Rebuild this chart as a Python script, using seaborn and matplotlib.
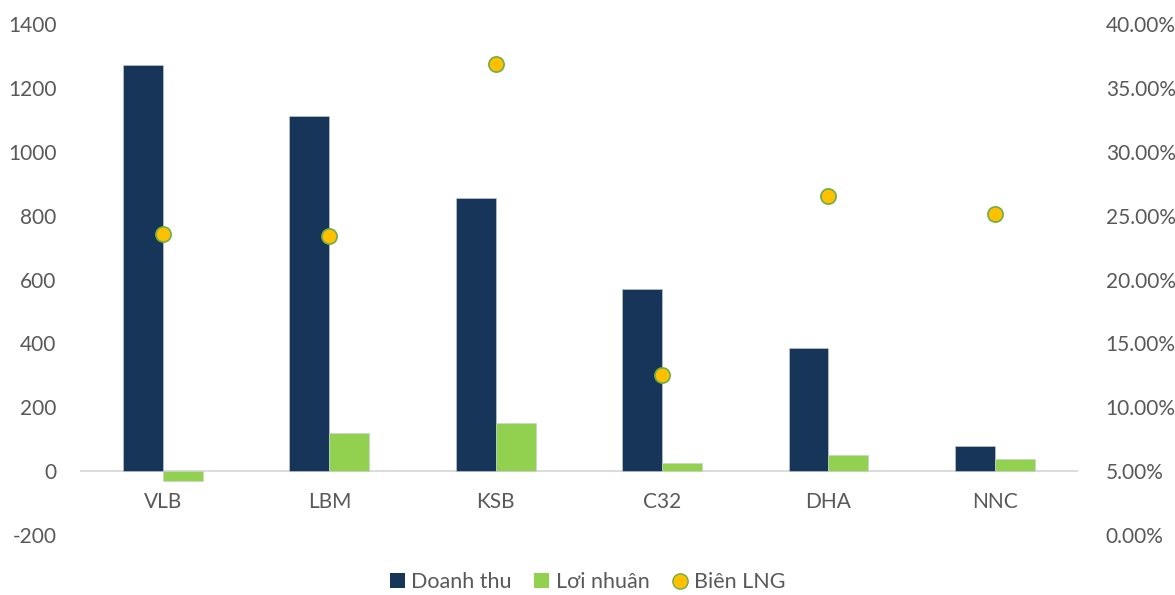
import matplotlib
matplotlib.use("Agg")
import matplotlib.pyplot as plt
import seaborn as sns
import pandas as pd
import numpy as np
from matplotlib.ticker import FuncFormatter, FixedLocator
from matplotlib.patches import Patch
from matplotlib.lines import Line2D

categories = ["VLB", "LBM", "KSB", "C32", "DHA", "NNC"]
doanh_thu = [1272, 1112, 855, 570, 385, 80]
loi_nhuan = [-30, 120, 150, 25, 50, 37]
bien_lng = [23.6, 23.4, 36.9, 12.5, 26.5, 25.1]
left_ticks = [-200, 0, 200, 400, 600, 800, 1000, 1200, 1400]
right_ticks = [0, 5, 10, 15, 20, 25, 30, 35, 40]
series_names = ["Doanh thu", "Lơi nhuân", "Biên LNG"]

sns.set_theme(style="white")
plt.rcParams["font.family"] = ["Lato", "DejaVu Sans"]
plt.rcParams["axes.unicode_minus"] = False

NAVY = "#173459"
GREEN = "#92D050"
GOLD = "#FFC000"
TXT = "#595959"
FS = 15

df = pd.DataFrame({
    "cat": categories * 2,
    "val": doanh_thu + loi_nhuan,
    "series": [series_names[0]] * len(categories) + [series_names[1]] * len(categories),
})

fig = plt.figure(figsize=(11.75, 5.95), dpi=100)
ax = fig.add_axes([0.068, 0.1008, 0.8494, 0.8589])
sns.barplot(data=df, x="cat", y="val", hue="series", order=categories,
            palette=[NAVY, GREEN], width=0.48, ax=ax, saturation=1,
            edgecolor="#c8d0dc", linewidth=0.4, legend=False)
ax.set_xlim(-0.5, len(categories) - 0.5)
ax.set_ylim(-200, 1400)
ax.yaxis.set_major_locator(FixedLocator(left_ticks))
ax.set_xlabel("")
ax.set_ylabel("")
for s in ax.spines.values():
    s.set_visible(False)
ax.axhline(0, color="#d9d9d9", lw=1.3, zorder=0.5)
ax.tick_params(axis="y", length=0, labelsize=FS, colors=TXT, pad=17)
ax.set_xticks([])
for i, c in enumerate(categories):
    ax.text(i, -97, c, ha="center", va="center", fontsize=FS, color=TXT)

ax2 = ax.twinx()
sdf = pd.DataFrame({"cat": np.arange(len(categories)), "m": bien_lng})
sns.scatterplot(data=sdf, x="cat", y="m", ax=ax2, color=GOLD, s=120,
                edgecolor="#70AD47", linewidth=1.2, zorder=5, legend=False)
ax2.set_ylim(0, 40)
ax2.yaxis.set_major_locator(FixedLocator(right_ticks))
ax2.yaxis.set_major_formatter(FuncFormatter(lambda v, p: f"{v:.2f}%"))
ax2.set_ylabel("")
ax2.set_xlabel("")
for s in ax2.spines.values():
    s.set_visible(False)
ax2.tick_params(axis="y", length=0, labelsize=FS, colors=TXT, pad=20)
ax2.set_xlim(-0.5, len(categories) - 0.5)

handles = [
    Patch(facecolor=NAVY, edgecolor="none"),
    Patch(facecolor=GREEN, edgecolor="none"),
    Line2D([], [], marker="o", linestyle="none", markerfacecolor=GOLD,
           markeredgecolor="#70AD47", markersize=11),
]
leg = fig.legend(handles, series_names,
                 loc="lower center", bbox_to_anchor=(0.5, -0.028), ncol=3,
                 frameon=False, fontsize=FS + 0.5, handlelength=0.7, handleheight=0.7,
                 handletextpad=0.3, columnspacing=1.05)
for t in leg.get_texts():
    t.set_color(TXT)

fig.savefig("out.png", dpi=100)
